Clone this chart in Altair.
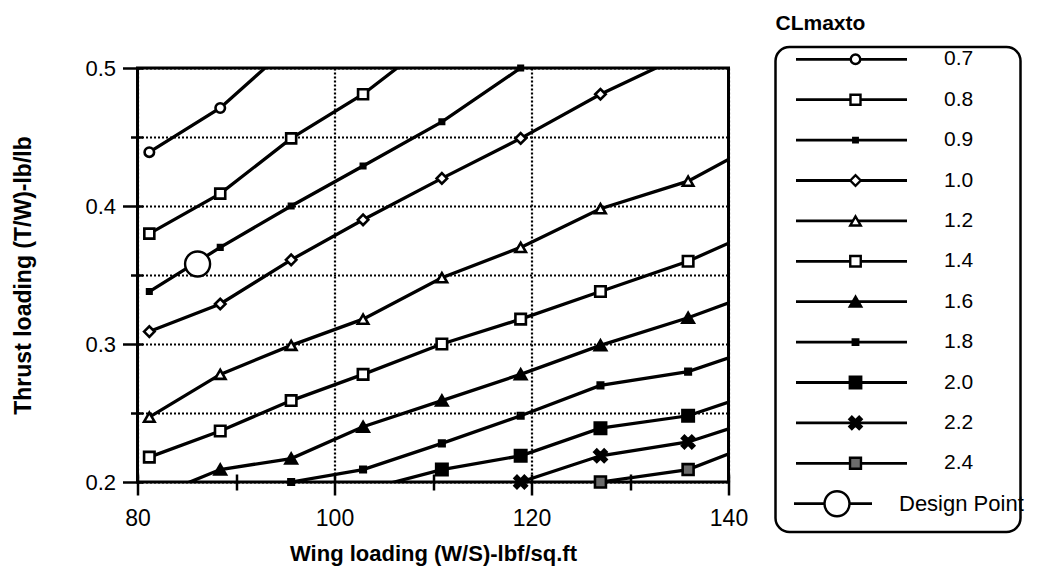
import altair as alt
import pandas as pd

# ---- data ----
wing_loading = [81.2, 88.4, 95.6, 102.9, 110.9, 118.9, 127.0, 135.9, 145.0]
clmaxto = ["0.7", "0.8", "0.9", "1.0", "1.2", "1.4", "1.6", "1.8", "2.0", "2.2", "2.4"]

tw_07 = [0.439, 0.471, 0.517, None, None, None, None, None, None]
tw_08 = [0.380, 0.409, 0.449, 0.481, 0.525, None, None, None, None]
tw_09 = [0.338, 0.370, 0.400, 0.429, 0.461, 0.500, 0.540, None, None]
tw_10 = [0.309, 0.329, 0.361, 0.390, 0.420, 0.449, 0.481, 0.511, None]
tw_12 = [0.247, 0.278, 0.299, 0.318, 0.348, 0.370, 0.398, 0.418, 0.453]
tw_14 = [0.218, 0.237, 0.259, 0.278, 0.300, 0.318, 0.338, 0.360, 0.389]
tw_16 = [0.188, 0.209, 0.217, 0.240, 0.259, 0.278, 0.299, 0.319, 0.343]
tw_18 = [None, 0.185, 0.200, 0.209, 0.228, 0.248, 0.270, 0.280, 0.302]
tw_20 = [None, None, None, 0.194, 0.209, 0.219, 0.239, 0.248, 0.270]
tw_22 = [None, None, None, None, 0.181, 0.200, 0.219, 0.229, 0.250]
tw_24 = [None, None, None, None, None, 0.180, 0.200, 0.209, 0.234]

design_ws = [86.1]
design_tw = [0.358]

x_ticks = [80, 90, 100, 110, 120, 130, 140]
y_ticks = [0.2, 0.25, 0.3, 0.35, 0.4, 0.45, 0.5]

# ---- styles ----
X_PATH = "M-1,-0.6L-0.6,-1L0,-0.4L0.6,-1L1,-0.6L0.4,0L1,0.6L0.6,1L0,0.4L-0.6,1L-1,0.6L-0.4,0Z"
shapes = ["circle", "square", "square", "diamond", "triangle-up", "square",
          "triangle-up", "square", "square", X_PATH, "square"]
fills = ["white", "white", "black", "white", "white", "white",
         "black", "black", "black", "black", "#6b6b6b"]
sizes = [90, 100, 20, 110, 110, 110, 130, 30, 130, 150, 120]

series_vals = [tw_07, tw_08, tw_09, tw_10, tw_12, tw_14, tw_16, tw_18, tw_20, tw_22, tw_24]
rows = []
for name, vals in zip(clmaxto, series_vals):
    for ws, tw in zip(wing_loading, vals):
        if tw is not None:
            rows.append({"series": name, "ws": ws, "tw": tw})
df = pd.DataFrame(rows)
design_df = pd.DataFrame({"ws": design_ws, "tw": design_tw})

FONT = "Liberation Sans"

shape_scale = alt.Scale(domain=clmaxto, range=shapes)
fill_scale = alt.Scale(domain=clmaxto, range=fills)
size_scale = alt.Scale(type="ordinal", domain=clmaxto, range=sizes)

x_major = "datum.value % 20 == 0"
y_major = "abs(datum.value*10 - round(datum.value*10)) < 0.001"

x_enc = alt.X(
    "ws:Q",
    scale=alt.Scale(domain=[80, 140], nice=False),
    axis=alt.Axis(
        values=x_ticks,
        labelExpr=f"{x_major} ? datum.label : ''",
        title="Wing loading (W/S)-lbf/sq.ft",
        domain=False, offset=-8,
        tickSize={"condition": {"test": x_major, "value": 21}, "value": 16},
        tickColor="black", tickWidth=2.5,
        labelFont=FONT, labelFontSize=23, labelColor="black", labelPadding=12,
        labelFlush=False,
        titleFont=FONT, titleFontSize=22, titleFontWeight="bold", titleColor="black",
        titlePadding=13,
        grid=True, gridColor="black", gridDash=[2, 2], gridWidth=2.2,
        gridOpacity={"condition": {"test": x_major, "value": 1}, "value": 0},
    ),
)
y_enc = alt.Y(
    "tw:Q",
    scale=alt.Scale(domain=[0.2, 0.5], nice=False),
    axis=alt.Axis(
        values=y_ticks,
        labelExpr=f"{y_major} ? format(datum.value, '.1f') : ''",
        title="Thrust loading (T/W)-lb/lb",
        domain=False, offset=-5,
        tickSize={"condition": {"test": y_major, "value": 20}, "value": 12},
        tickColor="black", tickWidth=2.5,
        labelFont=FONT, labelFontSize=22, labelColor="black", labelPadding=7,
        labelFlush=False,
        titleFont=FONT, titleFontSize=23, titleFontWeight="bold", titleColor="black",
        titlePadding=49,
        grid=True, gridColor="black", gridDash=[2, 2], gridWidth=2.2,
    ),
)

lines = alt.Chart(df).mark_line(color="black", strokeWidth=3.3, clip=True).encode(
    x=x_enc, y=y_enc, detail="series:N"
)
points = alt.Chart(df).transform_filter(
    "datum.ws <= 140 && datum.tw >= 0.2 && datum.tw <= 0.5"
).mark_point(filled=True, stroke="black", strokeWidth=2.6, opacity=1).encode(
    x="ws:Q", y="tw:Q",
    shape=alt.Shape("series:N", scale=shape_scale, legend=None),
    fill=alt.Fill("series:N", scale=fill_scale, legend=None),
    size=alt.Size("series:O", scale=size_scale, legend=None),
)
design = alt.Chart(design_df).mark_point(
    shape="circle", filled=True, fill="white", stroke="black", strokeWidth=2.4,
    size=625, opacity=1
).encode(x="ws:Q", y="tw:Q")

plot = alt.layer(lines, points, design).properties(
    width=591, height=414,
    view=alt.ViewBackground(stroke="black", strokeWidth=3),
)

# ---- legend panel ----
leg_df = pd.DataFrame({"series": clmaxto, "row": list(range(len(clmaxto)))})
dp_df = pd.DataFrame({"label": ["Design Point"], "row": [len(clmaxto)]})
one = pd.DataFrame({"k": [0]})
row_scale = alt.Scale(domain=[0, 11], range=[-8.7, 435.7])

box = alt.Chart(one).mark_rect(
    cornerRadius=14, fill="white", fillOpacity=0, stroke="black", strokeWidth=2.5
).encode(x=alt.value(7), x2=alt.value(252), y=alt.value(-21), y2=alt.value(464))
leg_title = alt.Chart(one).mark_text(
    text="CLmaxto", font=FONT, fontSize=21, fontWeight="bold", align="left",
    baseline="alphabetic", color="black"
).encode(x=alt.value(7), y=alt.value(-38))
leg_rules = alt.Chart(leg_df).mark_rule(color="black", strokeWidth=2.8).encode(
    y=alt.Y("row:Q", scale=row_scale, axis=None), x=alt.value(27.5), x2=alt.value(138.5)
)
leg_points = alt.Chart(leg_df).mark_point(
    filled=True, stroke="black", strokeWidth=2.4, opacity=1
).encode(
    y=alt.Y("row:Q", scale=row_scale, axis=None), x=alt.value(87),
    shape=alt.Shape("series:N", scale=shape_scale, legend=None),
    fill=alt.Fill("series:N", scale=fill_scale, legend=None),
    size=alt.Size("series:O", scale=size_scale, legend=None),
)
leg_labels = alt.Chart(leg_df).mark_text(
    font=FONT, fontSize=21, align="left", baseline="middle", color="black"
).encode(y=alt.Y("row:Q", scale=row_scale, axis=None), x=alt.value(175.5), text="series:N")
dp_rule = alt.Chart(dp_df).mark_rule(color="black", strokeWidth=2.8).encode(
    y=alt.Y("row:Q", scale=row_scale, axis=None), x=alt.value(25.5), x2=alt.value(103.5)
)
dp_point = alt.Chart(dp_df).mark_point(
    shape="circle", filled=True, fill="white", stroke="black", strokeWidth=2.4,
    size=625, opacity=1
).encode(y=alt.Y("row:Q", scale=row_scale, axis=None), x=alt.value(68.5))
dp_label = alt.Chart(dp_df).mark_text(
    font=FONT, fontSize=22, align="left", baseline="middle", color="black",
    limit=125, ellipsis=" "
).encode(y=alt.Y("row:Q", scale=row_scale, axis=None), x=alt.value(130.5), text="label:N")

legend = alt.layer(box, leg_title, leg_rules, leg_points, leg_labels,
                   dp_rule, dp_point, dp_label).properties(
    width=254, height=414,
    view=alt.ViewBackground(stroke="transparent"),
)

chart = alt.hconcat(plot, legend, spacing=40, bounds="flush").resolve_scale(
    x="independent", y="independent", shape="independent", fill="independent",
    size="independent"
).properties(
    padding={"left": 2.5, "top": 4, "right": 0, "bottom": 0},
    background="white",
).configure_view(stroke="transparent")

chart.save("out.html", embed_options={"renderer": "svg", "actions": False})
